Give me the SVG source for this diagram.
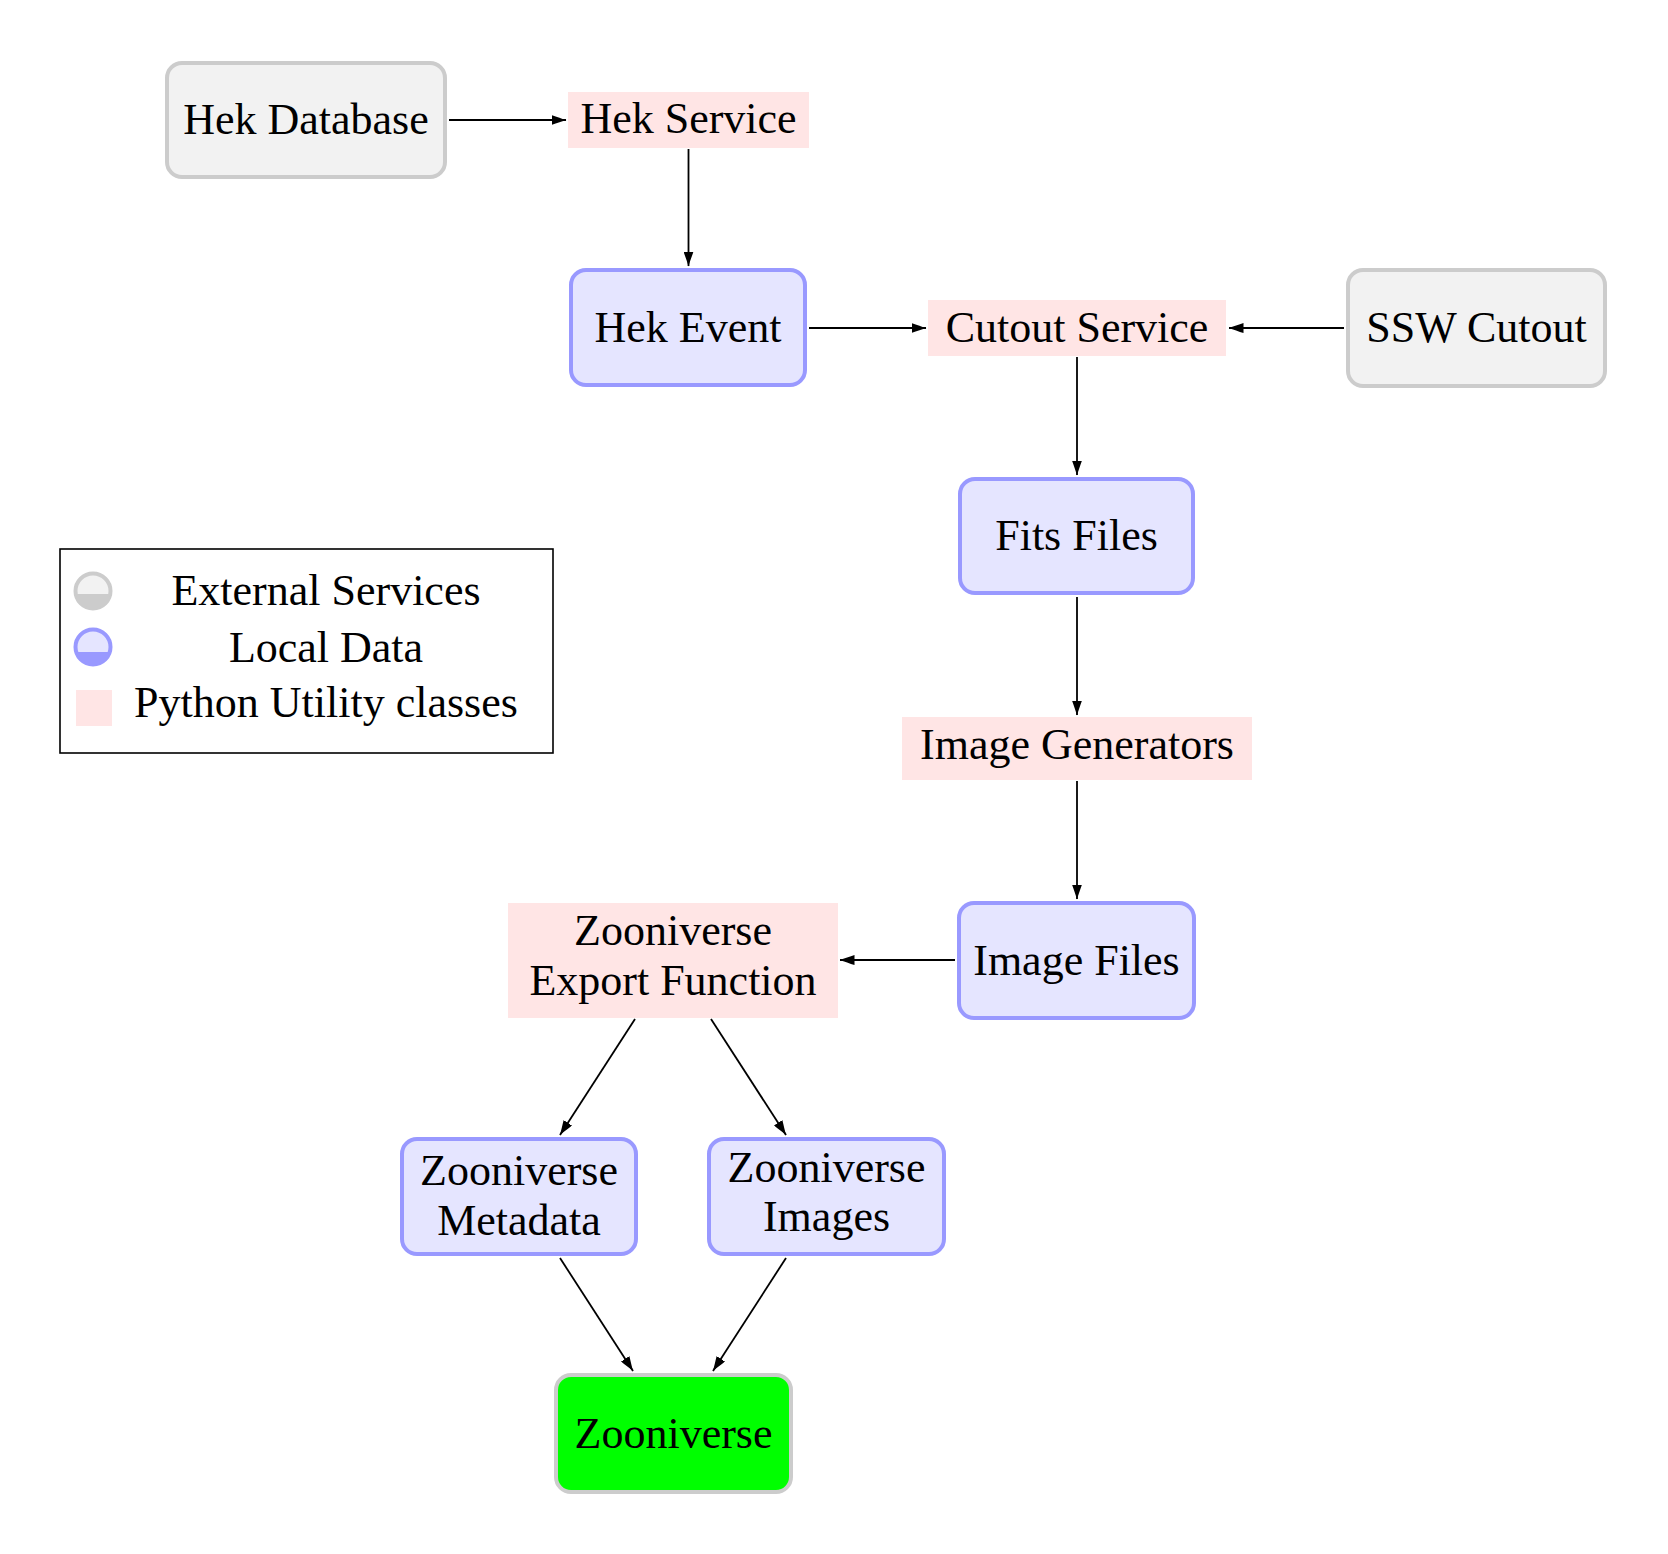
<svg xmlns="http://www.w3.org/2000/svg" width="1668" height="1554" viewBox="0 0 1668 1554">
<style>
  text { font-family: "Liberation Serif", "Times New Roman", serif; font-size: 44px; fill: #000; text-anchor: middle; }
  .ext { fill: #f2f2f2; stroke: #cccccc; stroke-width: 4; }
  .loc { fill: #e5e5ff; stroke: #9999ff; stroke-width: 4; }
  .py { fill: #ffe5e5; stroke: none; }
  .goal { fill: #00ff00; stroke: #cccccc; stroke-width: 4; }
  .edge { fill: none; stroke: #000; stroke-width: 1.8; marker-end: url(#arr); }
</style>
<defs>
  <marker id="arr" markerUnits="userSpaceOnUse" markerWidth="15" markerHeight="10" viewBox="0 0 15 10" refX="14.5" refY="5" orient="auto">
    <path d="M15,5 C11,6 4.5,8.5 0,10 L0,0 C4.5,1.5 11,4 15,5 Z" fill="#000"/>
  </marker>
</defs>
<rect width="1668" height="1554" fill="#fff"/>

<g id="connectors">
  <path class="edge" d="M449,120 H566"/>
  <path class="edge" d="M688.5,149 V266"/>
  <path class="edge" d="M809,328 H926"/>
  <path class="edge" d="M1344,328 H1229"/>
  <path class="edge" d="M1077,357 V475"/>
  <path class="edge" d="M1077,597 V715"/>
  <path class="edge" d="M1077,781 V899"/>
  <path class="edge" d="M955,960 H840"/>
  <path class="edge" d="M635,1019 L560,1135"/>
  <path class="edge" d="M711,1019 L786,1135"/>
  <path class="edge" d="M560,1258 L633,1371"/>
  <path class="edge" d="M786,1258 L713,1371"/>
</g>

<g id="hek-database">
  <rect class="ext" x="167" y="63" width="278" height="114" rx="15"/>
  <text x="306" y="134">Hek Database</text>
</g>
<g id="hek-service">
  <rect class="py" x="568" y="92" width="241" height="56"/>
  <text x="688.5" y="133">Hek Service</text>
</g>
<g id="hek-event">
  <rect class="loc" x="571" y="270" width="234" height="115" rx="15"/>
  <text x="688" y="342">Hek Event</text>
</g>
<g id="cutout-service">
  <rect class="py" x="928" y="300" width="298" height="56"/>
  <text x="1077" y="342">Cutout Service</text>
</g>
<g id="ssw-cutout">
  <rect class="ext" x="1348" y="270" width="257" height="116" rx="15"/>
  <text x="1476.5" y="342">SSW Cutout</text>
</g>
<g id="fits-files">
  <rect class="loc" x="960" y="479" width="233" height="114" rx="15"/>
  <text x="1076.5" y="550">Fits Files</text>
</g>
<g id="image-generators">
  <rect class="py" x="902" y="717" width="350" height="63"/>
  <text x="1077" y="759">Image Generators</text>
</g>
<g id="image-files">
  <rect class="loc" x="959" y="903" width="235" height="115" rx="15"/>
  <text x="1076.5" y="975">Image Files</text>
</g>
<g id="export-function">
  <rect class="py" x="508" y="903" width="330" height="115"/>
  <text x="673" y="945">Zooniverse</text>
  <text x="673" y="995">Export Function</text>
</g>
<g id="zooniverse-metadata">
  <rect class="loc" x="402" y="1139" width="234" height="115" rx="15"/>
  <text x="519" y="1185">Zooniverse</text>
  <text x="519" y="1235">Metadata</text>
</g>
<g id="zooniverse-images">
  <rect class="loc" x="709" y="1139" width="235" height="115" rx="15"/>
  <text x="826.5" y="1182">Zooniverse</text>
  <text x="826.5" y="1231">Images</text>
</g>
<g id="zooniverse">
  <rect class="goal" x="556" y="1375" width="235" height="117" rx="15"/>
  <text x="673.5" y="1448">Zooniverse</text>
</g>

<g id="legend">
  <rect x="60" y="549" width="493" height="204" fill="none" stroke="#000" stroke-width="1.6"/>
  <circle cx="93" cy="591" r="17.5" fill="#f2f2f2" stroke="#cccccc" stroke-width="4"/>
  <path d="M75.9,594 A17.5,17.5 0 0 0 110.1,594 Z" fill="#cccccc"/>
  <text x="326" y="605">External Services</text>
  <circle cx="93" cy="647" r="17.5" fill="#e5e5ff" stroke="#9999ff" stroke-width="4"/>
  <path d="M76.2,652 A17.5,17.5 0 0 0 109.8,652 Z" fill="#9999ff"/>
  <text x="326" y="662">Local Data</text>
  <rect class="py" x="76" y="690" width="36" height="36"/>
  <text x="326" y="717">Python Utility classes</text>
</g>
</svg>
